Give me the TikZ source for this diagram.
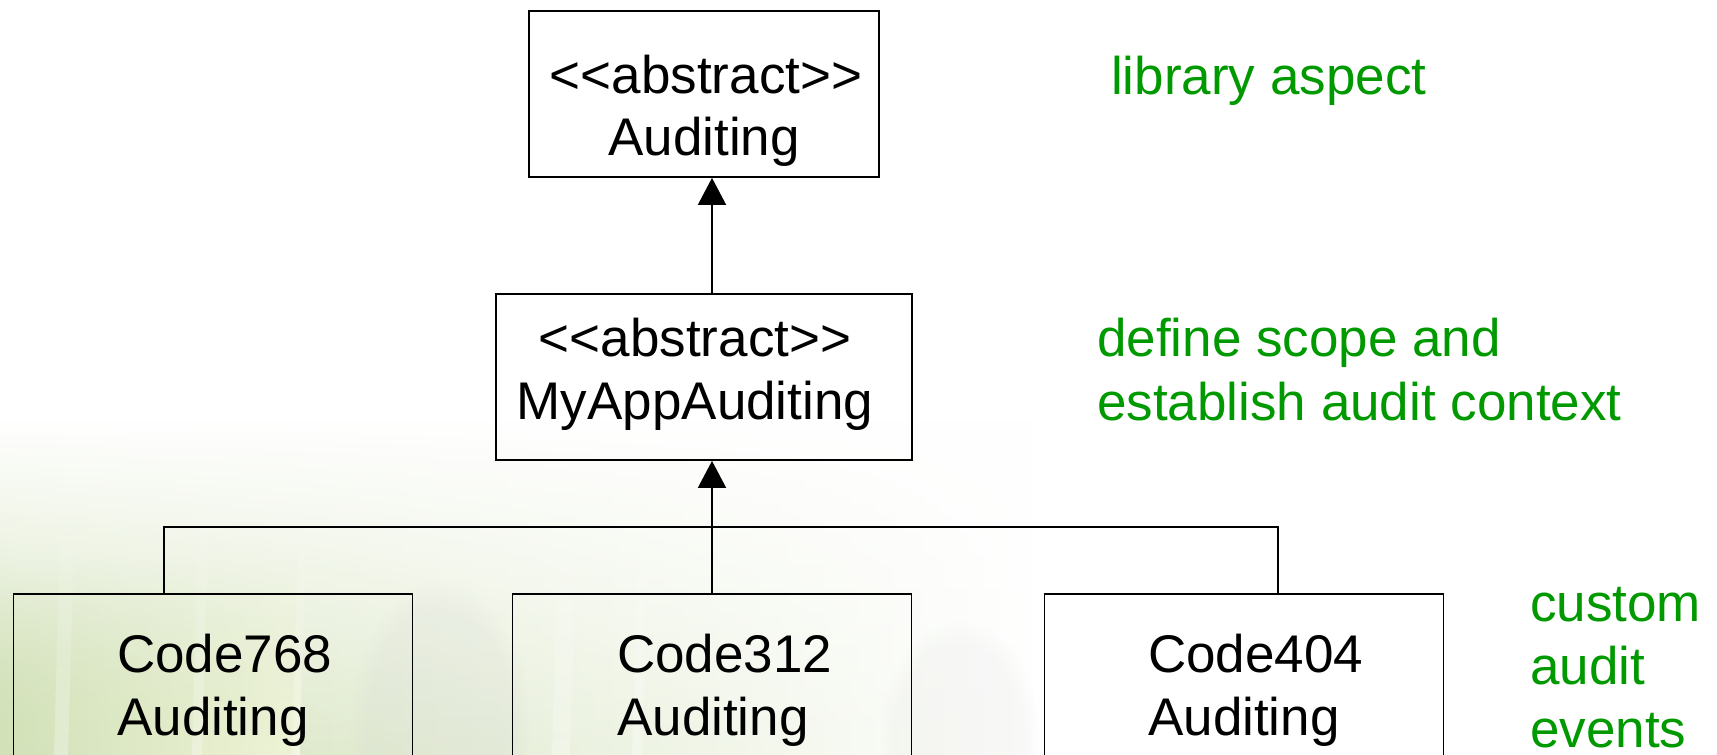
\documentclass[tikz,border=0pt]{standalone}
\usepackage{fontspec}
\setmainfont{Liberation Sans}
\usetikzlibrary{arrows.meta,fadings}
\definecolor{notegreen}{RGB}{0,153,0}
\definecolor{grassA}{RGB}{210,225,184}
\definecolor{grassB}{RGB}{239,244,215}
% guillemet-free angle pairs (keep << and >> as two separate characters)
\newcommand{\lguil}{\mbox{<}\mbox{<}}
\newcommand{\rguil}{\mbox{>}\mbox{>}}
\begin{document}
\begin{tikzpicture}[x=1pt,y=-1pt,
  every node/.style={font=\fontsize{53}{63}\selectfont, inner sep=0pt},
  umlbox/.style={draw, line width=1.8pt, minimum height=166pt},
  codebox/.style={draw, line width=1.8pt, minimum width=399pt, minimum height=220pt, anchor=north},
  txt/.style={anchor=base, text=black},
  codetxt/.style={anchor=base west, text=black},
  note/.style={anchor=base west, text=notegreen},
  gen/.style={line width=1.8pt, -{Triangle[length=27pt,width=28pt]}},
  link/.style={line width=1.8pt}]
\path[use as bounding box] (0,0) rectangle (1717,755);
\clip (0,0) rectangle (1717,755);
\fill[white] (0,0) rectangle (1717,755);

% pale grass backdrop in the lower left
\shade[left color=grassA, middle color=grassB, right color=white, path fading=north]
  (0,420) rectangle (1050,755);
\shade[left color=grassA, right color=grassB, path fading=north]
  (0,560) rectangle (300,755);
\fill[gray!40, opacity=0.15, path fading=circle with fuzzy edge 20 percent] (440,730) ellipse (90 and 150);
\fill[gray!35, opacity=0.12, path fading=circle with fuzzy edge 20 percent] (960,740) ellipse (80 and 120);
\foreach \sx/\w in {62/14, 200/10, 300/8, 560/18, 640/10}
  \fill[white, opacity=0.3, path fading=north]
    (\sx,470) -- ++(\w,0) -- ++(-8,285) -- ++(-\w,0) -- cycle;

% class boxes
\node[umlbox, minimum width=350pt] (top) at (704,94) {};
\node[txt] (topst) at (706,93) {\lguil abstract\rguil};
\node[txt] (topname) at (704,155) {Auditing};

\node[umlbox, minimum width=416pt] (mid) at (704,377) {};
\node[txt] (midst) at (695,356) {\lguil abstract\rguil};
\node[txt] (midname) at (695,419) {MyAppAuditing};

\node[codebox] (c1) at (213,593) {};
\node[codetxt] (c1a) at (117,672) {Code768};
\node[codetxt] (c1b) at (117,735) {Auditing};

\node[codebox] (c2) at (712,593) {};
\node[codetxt] (c2a) at (617,672) {Code312};
\node[codetxt] (c2b) at (617,735) {Auditing};

\node[codebox] (c3) at (1244,593) {};
\node[codetxt] (c3a) at (1148,672) {Code404};
\node[codetxt] (c3b) at (1148,735) {Auditing};

% generalisation links
\draw[gen] ([xshift=8pt]mid.north) -- ([xshift=8pt]top.south);
\draw[gen] (c2.north) -- ([xshift=8pt]mid.south);
\draw[link] ([xshift=-49pt]c1.north) -- ++(0,-66) -| ([xshift=34pt]c3.north);

% notes
\node[note] (n1) at (1111,94) {library aspect};
\node[note] (n2a) at (1097,356) {define scope and};
\node[note] (n2b) at (1097,420) {establish audit context};
\node[note] (n3a) at (1530,621) {custom};
\node[note] (n3b) at (1530,684) {audit};
\node[note] (n3c) at (1530,747) {events};
\end{tikzpicture}
\end{document}
